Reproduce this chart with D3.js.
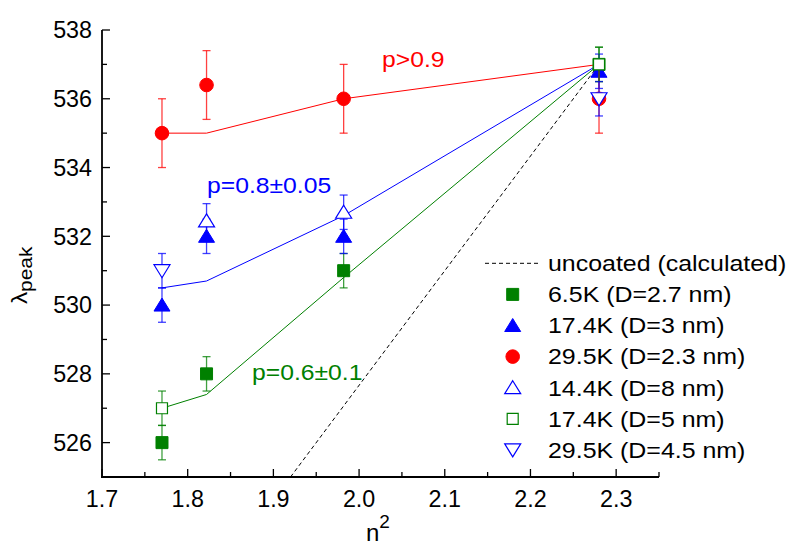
<!DOCTYPE html>
<html><head><meta charset="utf-8">
<script src="https://cdn.jsdelivr.net/npm/d3@7"></script>
<style>body{margin:0;background:#fff;} text{font-family:"Liberation Sans",Arial,sans-serif;}</style>
</head><body><svg id="c" width="790" height="548"></svg>
<script>
// ---- data ----
const nSq = [1.77, 1.822, 1.982, 2.28];
const y65K = [526, 528, 531, 537];          // 6.5K (D=2.7 nm), filled square
const e65K = [0.5, 0.5, 0.5, 0.5];
const y174K = [530, 532, 532, 536.8];       // 17.4K (D=3 nm), filled triangle
const e174K = [0.5, 0.5, 0.5, 0.5];
const y295K = [535, 536.4, 536, 536];       // 29.5K (D=2.3 nm), filled circle
const e295K = [1, 1, 1, 1];
const x144K = [1.822, 1.982];               // 14.4K (D=8 nm), open triangle
const y144K = [532.45, 532.7];
const e144K = [0.5, 0.5];
const x174K5 = [1.77, 2.28];                // 17.4K (D=5 nm), open square
const y174K5 = [527, 537];
const e174K5 = [0.5, 0.5];
const x295K45 = [1.77, 2.28];               // 29.5K (D=4.5 nm), open inverted triangle
const y295K45 = [531, 536];
const e295K45 = [0.5, 0.5];
const fitRed = [535, 535, 536, 537];
const fitBlue = [530.5, 530.7, 532.6, 537];
const fitGreen = [527, 527.4, 530.8, 537];
const uncX = [1.92, 2.28];
const uncY = [525, 537];
const xTicks = [1.7, 1.8, 1.9, 2.0, 2.1, 2.2, 2.3];
const xMinor = [1.75, 1.85, 1.95, 2.05, 2.15, 2.25, 2.35];
const yTicks = [526, 528, 530, 532, 534, 536, 538];
const yMinor = [527, 529, 531, 533, 535, 537];
const legendLabels = ["uncoated (calculated)", "6.5K (D=2.7 nm)", "17.4K (D=3 nm)", "29.5K (D=2.3 nm)", "14.4K (D=8 nm)", "17.4K (D=5 nm)", "29.5K (D=4.5 nm)"];

const GREEN = "#008000", BLUE = "#0000ff", RED = "#ff0000";
const svg = d3.select("#c");
const x = d3.scaleLinear().domain([1.7, 2.35]).range([102, 659]);
const y = d3.scaleLinear().domain([525, 538]).range([477, 30]);

// marker shapes
const shapes = {
  square: "M-6,-6H6V6H-6Z",
  osquare: "M-5.5,-5.5H5.5V5.5H-5.5Z",
  tri: "M0,-7L8,6L-8,6Z",
  itri: "M0,7L8,-6L-8,-6Z",
  circle: d3.symbol(d3.symbolCircle, 145)()
};
function marker(g, px, py, shape, color, open) {
  g.append("path").attr("d", shapes[shape]).attr("transform", `translate(${px},${py})`)
    .attr("fill", open ? "#fff" : color).attr("stroke", color).attr("stroke-width", open ? 1.2 : 1);
}
function errbar(g, px, py, e, color) {
  const gg = g.append("g").attr("stroke", color).attr("stroke-width", 1.3).attr("stroke-opacity", 0.75);
  gg.append("line").attr("x1", x(px)).attr("x2", x(px)).attr("y1", y(py - e)).attr("y2", y(py + e));
  [py - e, py + e].forEach(v => gg.append("line").attr("x1", x(px) - 4).attr("x2", x(px) + 4).attr("y1", y(v)).attr("y2", y(v)));
}
function stext(g, px, py, str, size, color, sx, anchor) {
  return g.append("text").attr("transform", `translate(${px},${py}) scale(${sx},1)`)
    .attr("font-size", size).attr("fill", color).attr("text-anchor", anchor || "start").text(str);
}

// lines
const line = d3.line().x(d => x(d[0])).y(d => y(d[1]));
svg.append("path").attr("d", line(d3.zip(uncX, uncY))).attr("fill", "none").attr("stroke", "#000").attr("stroke-width", 1).attr("stroke-dasharray", "4,3");
[[fitRed, RED], [fitBlue, BLUE], [fitGreen, GREEN]].forEach(([ys, c]) =>
  svg.append("path").attr("d", line(d3.zip(nSq, ys))).attr("fill", "none").attr("stroke", c).attr("stroke-width", 1));

// series
const series = [
  {xs: nSq, ys: y65K, es: e65K, shape: "square", color: GREEN, open: false},
  {xs: nSq, ys: y174K, es: e174K, shape: "tri", color: BLUE, open: false},
  {xs: nSq, ys: y295K, es: e295K, shape: "circle", color: RED, open: false},
  {xs: x144K, ys: y144K, es: e144K, shape: "tri", color: BLUE, open: true},
  {xs: x174K5, ys: y174K5, es: e174K5, shape: "osquare", color: GREEN, open: true},
  {xs: x295K45, ys: y295K45, es: e295K45, shape: "itri", color: BLUE, open: true}
];
const gm = svg.append("g");
series.forEach(s => {
  s.xs.forEach((xv, i) => errbar(gm, xv, s.ys[i], s.es[i], s.color));
  s.xs.forEach((xv, i) => marker(gm, x(xv), y(s.ys[i]), s.shape, s.color, s.open));
});

// axes
const ga = svg.append("g").attr("stroke", "#000");
ga.append("line").attr("x1", x(1.7)).attr("x2", x(1.7)).attr("y1", y(525) + 1).attr("y2", y(538)).attr("stroke-width", 1.8);
ga.append("line").attr("x1", x(1.7) - 1).attr("x2", x(2.35)).attr("y1", y(525)).attr("y2", y(525)).attr("stroke-width", 1.8);
yTicks.forEach(v => ga.append("line").attr("x1", x(1.7)).attr("x2", x(1.7) + 8).attr("y1", y(v)).attr("y2", y(v)).attr("stroke-width", 1.3));
yMinor.forEach(v => ga.append("line").attr("x1", x(1.7)).attr("x2", x(1.7) + 5).attr("y1", y(v)).attr("y2", y(v)).attr("stroke-width", 1.3));
xTicks.forEach(v => ga.append("line").attr("x1", x(v)).attr("x2", x(v)).attr("y1", y(525)).attr("y2", y(525) - 8).attr("stroke-width", 1.3));
xMinor.forEach(v => ga.append("line").attr("x1", x(v)).attr("x2", x(v)).attr("y1", y(525)).attr("y2", y(525) - 5).attr("stroke-width", 1.3));
const fmtY = d3.format("d"), fmtX = d3.format(".1f");
yTicks.forEach(v => svg.append("text").attr("x", 92).attr("y", y(v) + 8.3).attr("text-anchor", "end").attr("font-size", 23.3).text(fmtY(v)));
xTicks.forEach(v => svg.append("text").attr("x", x(v)).attr("y", 507).attr("text-anchor", "middle").attr("font-size", 23.3).text(fmtX(v)));

// axis titles
const xl = svg.append("text").attr("x", 366).attr("y", 541).attr("font-size", 24);
xl.append("tspan").text("n");
xl.append("tspan").attr("font-size", 19).attr("dy", -13).text("2");
const yl = svg.append("text").attr("transform", "translate(27,304) rotate(-90) scale(1.1,1)").attr("font-size", 22);
yl.append("tspan").text("λ");
yl.append("tspan").attr("font-size", 19).attr("dy", 5).text("peak");

// annotations
stext(svg, 382, 67, "p>0.9", 21.5, RED, 1.15);
stext(svg, 207, 193, "p=0.8±0.05", 21.5, BLUE, 1.15);
stext(svg, 252, 380, "p=0.6±0.1", 21.5, GREEN, 1.15);

// legend
const legY0 = 263.3, legDY = 31.1, legSymX = 512.7, legTextX = 548;
const gl = svg.append("g");
legendLabels.forEach((lab, i) => {
  const cy = legY0 + i * legDY;
  if (i === 0) {
    gl.append("line").attr("x1", 485).attr("x2", 540).attr("y1", cy).attr("y2", cy).attr("stroke", "#000").attr("stroke-width", 1).attr("stroke-dasharray", "4,3");
  } else {
    const s = series[i - 1];
    marker(gl, legSymX, cy, s.shape, s.color, s.open);
  }
  stext(gl, legTextX, cy + 7.8, lab, 21.5, "#000", 1.16);
});
</script></body></html>
